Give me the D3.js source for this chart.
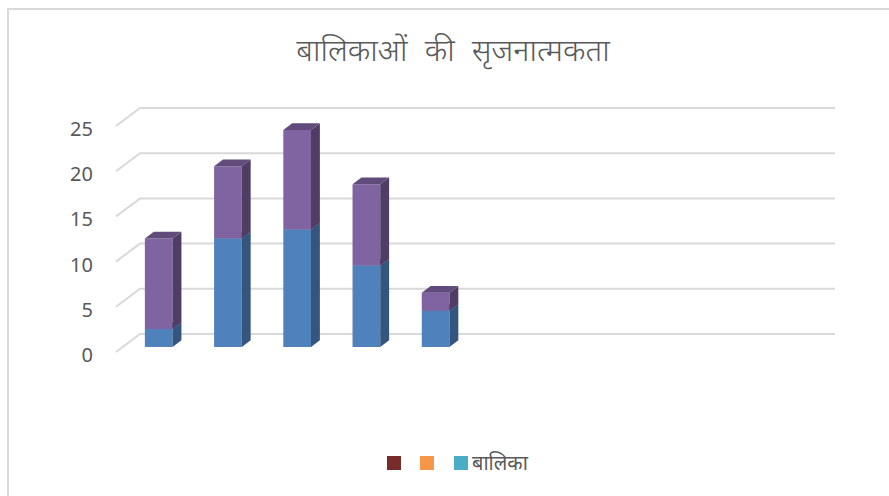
<!DOCTYPE html>
<html>
<head>
<meta charset="utf-8">
<script src="https://cdn.jsdelivr.net/npm/d3@7"></script>
<style>
  body { margin: 0; background: #fff; }
  svg { display: block; font-family: 'Noto Sans', 'Open Sans', sans-serif; }
</style>
</head>
<body>
<svg id="chart" width="889" height="496"></svg>
<script>
// data
const categories = ['1', '2', '3', '4', '5', '6', '7', '8', '9', '10'];
const seriesBottom = [2, 12, 13, 9, 4];   // blue
const seriesTop = [10, 8, 11, 9, 2];      // purple (stacked on blue)
const yTicks = [0, 5, 10, 15, 20, 25];
const legendNames = ['', '', 'बालिका'];
const legendColors = ['#772C2A', '#F79646', '#4BACC6'];
const title = 'बालिकाओं की सृजनात्मकता';

const svg = d3.select('#chart');

// frame of the chart area
svg.append('path')
  .attr('d', 'M8,496 V9 H889')
  .attr('fill', 'none')
  .attr('stroke', '#D9D9D9')
  .attr('stroke-width', 2);

svg.append('text')
  .attr('x', 453)
  .attr('y', 61)
  .attr('text-anchor', 'middle')
  .attr('font-size', 31)
  .attr('font-weight', 300)
  .attr('word-spacing', 9)
  .attr('fill', '#595959')
  .text(title);

// 3d projection: front floor corner, depth offset
const floor = {x: 116, y: 352};
const depth = {dx: 24, dy: -18};

const x = d3.scaleBand()
  .domain(categories)
  .range([floor.x, floor.x + 695])
  .paddingInner(0.6)
  .paddingOuter(0.32);

const y = d3.scaleLinear()
  .domain([0, 25])
  .range([floor.y, floor.y - 226]);

// project (screen x at front, value, depth 0..1)
const P = (px, v, z) => [px + depth.dx * z, y(v) + depth.dy * z];

// gridlines: back wall + side floor diagonals
const grid = svg.append('g').attr('stroke', '#D9D9D9').attr('stroke-width', 2).attr('fill', 'none');
yTicks.forEach(t => {
  const a = P(floor.x, t, 0), b = P(floor.x, t, 1), c = P(floor.x + 695, t, 1);
  grid.append('path').attr('d', d3.line()([a, b, c]));
});

// y labels
svg.append('g').selectAll('text')
  .data(yTicks)
  .join('text')
  .attr('x', 93)
  .attr('y', d => y(d) + 3)
  .attr('dy', '0.35em')
  .attr('text-anchor', 'end')
  .attr('font-size', 20)
  .attr('fill', '#595959')
  .text(d => d);

// bars
const z0 = 0.28, z1 = 0.65;
const segs = [];
seriesBottom.forEach((v, i) => {
  segs.push({cat: categories[i], lo: 0, hi: v, front: '#4F81BD', side: '#34557E', top: '#3F6797'});
  segs.push({cat: categories[i], lo: v, hi: v + seriesTop[i], front: '#8064A2', side: '#4F3D66', top: '#604B7A'});
});

const line = d3.line();
const bars = svg.append('g');
segs.forEach(s => {
  const xl = x(s.cat), xr = xl + x.bandwidth();
  const front = [P(xl, s.lo, z0), P(xr, s.lo, z0), P(xr, s.hi, z0), P(xl, s.hi, z0)];
  const side = [P(xr, s.lo, z0), P(xr, s.lo, z1), P(xr, s.hi, z1), P(xr, s.hi, z0)];
  const top = [P(xl, s.hi, z0), P(xr, s.hi, z0), P(xr, s.hi, z1), P(xl, s.hi, z1)];
  bars.append('path').attr('d', line(front) + 'Z').attr('fill', s.front);
  bars.append('path').attr('d', line(side) + 'Z').attr('fill', s.side);
  bars.append('path').attr('d', line(top) + 'Z').attr('fill', s.top);
});

// legend
const lx = [387, 420, 454];
const legend = svg.append('g');
legendNames.forEach((n, i) => {
  legend.append('rect')
    .attr('x', lx[i]).attr('y', 456)
    .attr('width', 14).attr('height', 14)
    .attr('fill', legendColors[i]);
  if (n) {
    legend.append('text')
      .attr('x', lx[i] + 18).attr('y', 463)
      .attr('dy', '0.35em')
      .attr('font-size', 20)
      .attr('fill', '#595959')
      .text(n);
  }
});
</script>
</body>
</html>
